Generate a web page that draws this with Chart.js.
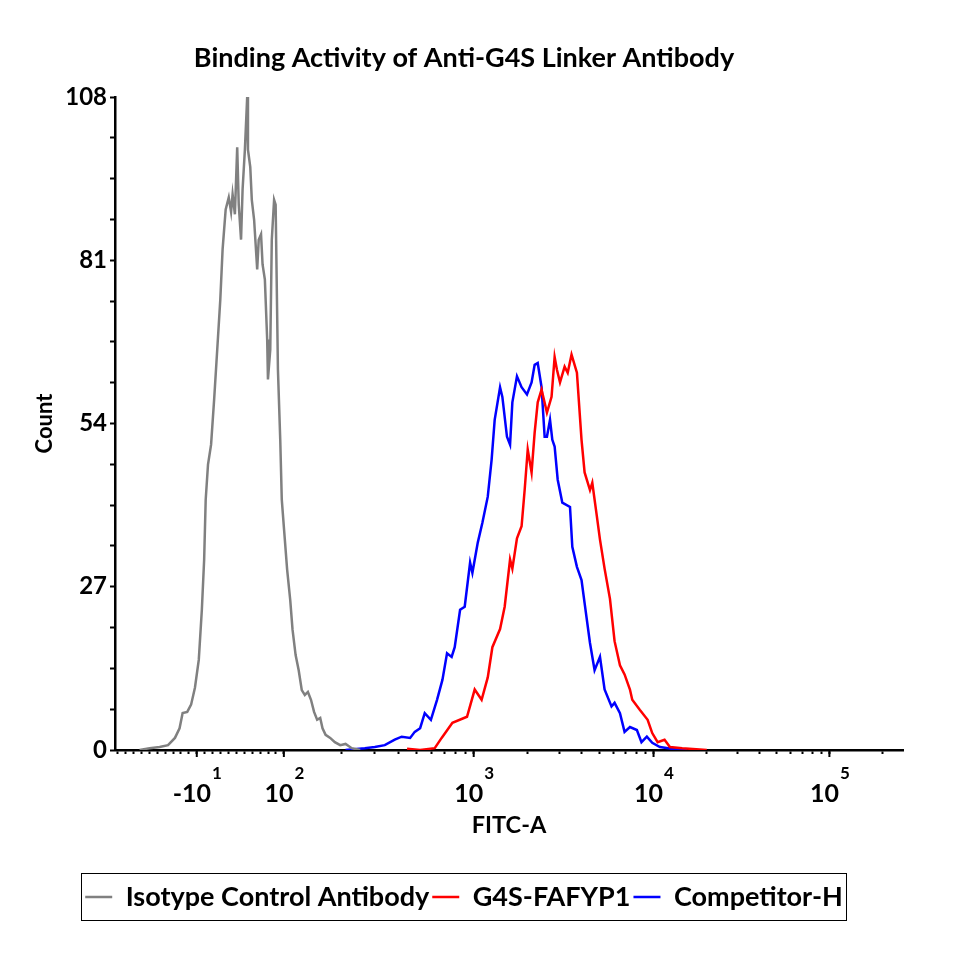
<!DOCTYPE html>
<html>
<head>
<meta charset="utf-8">
<script src="https://cdn.jsdelivr.net/npm/chart.js@4"></script>
<style>
  html, body { margin: 0; padding: 0; background: #fff; }
</style>
</head>
<body>
<canvas id="chart" width="960" height="960"></canvas>
<script>
/* histogram of FITC-A, x in display channels (0..1024), y in counts */

const isoCh = [32, 45, 58, 69, 78, 84, 88, 94, 99, 104, 109, 113, 116, 118, 121, 125, 129, 133, 137, 140,
  144, 148, 151, 153, 156, 159, 161, 164, 166, 169, 172, 173, 176, 178, 181, 183, 185, 187, 190, 192,
  195, 198, 199, 202, 204, 207, 209, 212, 215, 217, 220, 224, 228, 231, 235, 239, 243, 247, 251, 255,
  259, 263, 267, 270, 274, 280, 286, 293, 300, 308, 319];
const isoCount = [0, 0.3, 0.5, 0.8, 2, 3.6, 6.1, 6.3, 7.5, 10.3, 14.9, 23.2, 31.5, 41.4, 47.2, 50.5, 58, 66.2, 74.5, 82.8,
  89.4, 91.4, 89, 91.9, 88.6, 99.7, 90.2, 84.4, 92.7, 99.3, 108, 99.3, 96.4, 91, 87.7, 83.6, 79.5, 84.4, 85.3, 80.3,
  77.8, 67.9, 61.3, 66.2, 84.4, 91, 90.2, 62.9, 51.3, 41.4, 36.4, 29.8, 24.8, 19.9, 15.7, 13.2, 9.9, 9.1, 9.6, 8.3,
  6.3, 5, 5.3, 3.6, 2.5, 2, 1.3, 0.8, 1, 0.3, 0];

const g4sCh = [380, 397, 416, 425, 439, 458, 468, 477, 485, 491, 501, 507, 514, 517,
  523, 529, 533, 537, 542, 546, 550, 555, 562, 568, 572, 575, 579, 585, 589, 594, 601, 607, 611, 618,
  621, 627, 631, 637, 644, 650, 657, 663, 670, 673, 683, 693, 699, 706, 715, 722, 738, 770];
const g4sCount = [0.2, 0, 0.3, 2, 4.5, 5.5, 10, 8.3, 12, 17, 20, 23.7, 31.5, 30,
  35, 37, 43, 49.7, 45.9, 52.5, 57.5, 59.6, 55.8, 58.4, 65, 62.9, 60.8, 63.4, 62.4, 65.4, 62.4, 51.3, 45.9, 43,
  44.2, 38.6, 34.8, 30, 25, 18, 14, 12.5, 10, 8.3, 6.6, 5, 2.8, 1.3, 1.7, 0.5, 0.3, 0];

const compCh = [300, 325, 338, 351, 364, 373, 384, 390, 397, 403, 411, 419, 426, 432, 438, 442, 449,
  455, 462, 465, 472, 478, 485, 490, 494, 501, 504, 510, 514, 517, 523, 529, 536, 542, 546, 550, 555,
  559, 562, 566, 569, 572, 576, 582, 592, 595, 601, 607, 611, 618, 624, 631, 637, 646, 650, 657, 663,
  670, 679, 685, 692, 699, 709, 724, 744];
const compCount = [0, 0.3, 0.5, 0.8, 1.7, 2.2, 2, 3, 3.6, 6.1, 5, 8.3, 11.6, 16, 15.4, 17, 23.2,
  23.7, 31, 29.3, 34.3, 37.6, 41.9, 48, 54.6, 60, 58.4, 51.8, 50.5, 57.5, 61.8, 60, 58.8, 60.8, 63.7, 64, 60,
  51.8, 51.8, 54.6, 51.3, 50.2, 44.7, 40.9, 40.2, 33.6, 30.3, 28.1, 24.3, 17.7, 13.2, 15.4, 10, 7.2, 7.8, 6.1, 3,
  3.8, 3.3, 1.3, 2.2, 1.2, 0.5, 0.2, 0];

const seriesNames = ['Isotype Control Antibody', 'G4S-FAFYP1', 'Competitor-H'];

// x axis: labelled decades and minor tick values (FITC-A intensity)
const decadeValues = [-10, 100, 1000, 10000, 100000];
const decadeBase = ['-10', '10', '10', '10', '10'];
const decadeExp = ['1', '2', '3', '4', '5'];
const linearTicks = [-110, -100, -90, -80, -70, -60, -50, -40, -30, -20, -10, 0, 10, 20, 30, 40, 50, 60, 70, 80, 90];
const xMaxValue = 262144;
const yTickStep = 6.75;
const yLabelStep = 27;

const FONT = 'Lato, "Open Sans", sans-serif';

// biexponential-like display transform, value -> channel
function chan(v) {
  const anchors = [219.7, 466.7, 700.7, 929.5]; // channels of 1e2..1e5
  if (v <= 100) return anchors[0] + (v - 100) * 1.03;
  const lg = Math.log10(v);
  const d = Math.min(Math.floor(lg), 4);
  const i = d - 2;
  const w = i < 3 ? anchors[i + 1] - anchors[i] : anchors[3] - anchors[2];
  return anchors[i] + (lg - d) * w;
}

const xTickValues = [...linearTicks];
for (let d = 2; d <= 5; d++) {
  for (let k = 1; k <= 9; k++) {
    if (k * 10 ** d <= xMaxValue) xTickValues.push(k * 10 ** d);
  }
}

const toPts = (xs, ys) => xs.map((x, i) => ({ x: x, y: ys[i] }));

const extraDraw = {
  id: 'extraDraw',
  afterDraw(chart) {
    const ctx = chart.ctx;
    const xs = chart.scales.x;
    ctx.save();
    // longer ticks for decades + superscript labels
    ctx.strokeStyle = '#000';
    ctx.lineWidth = 2;
    ctx.fillStyle = '#000';
    ctx.textBaseline = 'alphabetic';
    ctx.textAlign = 'left';
    decadeValues.forEach((v, i) => {
      const px = xs.getPixelForValue(chan(v));
      ctx.beginPath();
      ctx.moveTo(px, xs.top);
      ctx.lineTo(px, xs.top + 7);
      ctx.stroke();
      ctx.font = 'bold 25px ' + FONT;
      const wb = ctx.measureText(decadeBase[i]).width;
      ctx.font = 'bold 17px ' + FONT;
      const we = ctx.measureText(decadeExp[i]).width;
      const x0 = px - (wb + we) / 2;
      ctx.font = 'bold 25px ' + FONT;
      ctx.fillText(decadeBase[i], x0, xs.top + 52);
      ctx.font = 'bold 17px ' + FONT;
      ctx.fillText(decadeExp[i], x0 + wb + 1, xs.top + 29);
    });
    // legend frame
    const boxes = chart.legend.legendHitBoxes;
    if (boxes && boxes.length) {
      const first = boxes[0];
      const last = boxes[boxes.length - 1];
      const cy = first.top + first.height / 2;
      ctx.lineWidth = 1;
      ctx.strokeRect(Math.round(first.left - 4) + 0.5, Math.round(cy - 24) + 0.5,
        Math.round(last.left + last.width - first.left + 7), 47);
    }
    ctx.restore();
  }
};

new Chart(document.getElementById('chart'), {
  type: 'line',
  data: {
    datasets: [
      { label: seriesNames[0], data: toPts(isoCh, isoCount), borderColor: '#808080', backgroundColor: '#808080', borderWidth: 2.5 },
      { label: seriesNames[1], data: toPts(g4sCh, g4sCount), borderColor: '#ff0000', backgroundColor: '#ff0000', borderWidth: 2.5 },
      { label: seriesNames[2], data: toPts(compCh, compCount), borderColor: '#0000ff', backgroundColor: '#0000ff', borderWidth: 2.5 },
    ],
  },
  options: {
    responsive: false,
    animation: false,
    layout: { padding: { left: 25, right: 57, top: 0, bottom: 39.5 } },
    elements: {
      line: { tension: 0 },
      point: { radius: 0, hoverRadius: 0 },
    },
    plugins: {
      title: {
        display: true,
        text: 'Binding Activity of Anti-G4S Linker Antibody',
        color: '#000',
        font: { family: FONT, size: 27, weight: 'bold' },
        padding: { top: 41.8, bottom: 22.8 },
      },
      legend: {
        position: 'bottom',
        labels: {
          usePointStyle: true,
          pointStyle: 'line',
          pointStyleWidth: 27,
          color: '#000',
          padding: 3,
          font: { family: FONT, size: 27, weight: 'bold' },
        },
      },
      tooltip: { enabled: false },
    },
    scales: {
      x: {
        type: 'linear',
        min: 0,
        max: chan(xMaxValue),
        afterBuildTicks: s => { s.ticks = xTickValues.map(v => ({ value: chan(v) })); },
        afterFit: s => { s.height = 130.5; },
        ticks: { autoSkip: false, callback: () => '', font: { size: 1 } },
        grid: { drawOnChartArea: false, color: '#000', tickLength: 4, tickWidth: 2 },
        border: { display: true, color: '#000', width: 2.5 },
        title: {
          display: true,
          text: 'FITC-A',
          color: '#000',
          font: { family: FONT, size: 23.5, weight: 'bold' },
          padding: { top: 0, bottom: 41.4 },
        },
      },
      y: {
        min: 0,
        max: 108,
        afterFit: s => { s.width = 90; },
        ticks: {
          stepSize: yTickStep,
          autoSkip: false,
          color: '#000',
          padding: 3,
          font: { family: FONT, size: 24, weight: 'bold' },
          callback: v => (Math.abs(v % yLabelStep) < 1e-6 ? v : ''),
        },
        grid: { drawOnChartArea: false, color: '#000', tickLength: 5, tickWidth: 2 },
        border: { display: true, color: '#000', width: 2.5 },
        title: {
          display: true,
          text: 'Count',
          color: '#000',
          font: { family: FONT, size: 22, weight: 'bold' },
          padding: { top: 7, bottom: 0 },
        },
      },
    },
  },
  plugins: [extraDraw],
});
</script>
</body>
</html>
